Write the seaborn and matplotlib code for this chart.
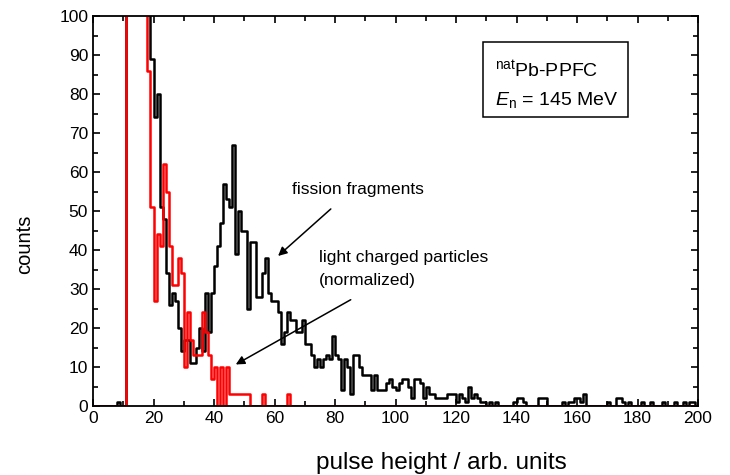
import numpy as np
import pandas as pd
import matplotlib
matplotlib.use("Agg")
import matplotlib.pyplot as plt
import seaborn as sns
from matplotlib.patches import Rectangle
from matplotlib.ticker import MultipleLocator

# ---------------- data (one value per channel, bin width 1) ----------------
bin_edges = list(range(0, 201))

fission_counts = (
    [0, 0, 0, 0, 0, 0, 0, 0, 1, 0, 0]                      # 0-10
    + [150, 150, 150, 150, 150, 150, 150, 150]              # 11-18
    + [89, 74, 80, 51, 48, 34, 26, 29, 27, 20, 14]          # 19-29
    + [17, 17, 11, 11, 15, 20, 14, 29, 19, 29]              # 30-39
    + [36, 41, 47, 57, 53, 51, 67, 39, 50, 45]              # 40-49
    + [45, 25, 42, 42, 28, 28, 34, 38, 29, 27]              # 50-59
    + [27, 24, 16, 19, 24, 22, 22, 19, 19, 22]              # 60-69
    + [16, 16, 13, 10, 12, 10, 12, 13, 12, 18]              # 70-79
    + [13, 12, 4, 12, 10, 3, 13, 13, 10, 8]                 # 80-89
    + [8, 8, 4, 8, 4, 4, 4, 6, 7, 5]                        # 90-99
    + [4, 6, 7, 7, 5, 2, 7, 7, 6, 2]                        # 100-109
    + [5, 3, 3, 2, 2, 2, 2, 3, 3, 3]                        # 110-119
    + [1, 3, 2, 1, 5, 2, 3, 2, 1, 1]                        # 120-129
    + [0, 1, 0, 1, 0, 0, 0, 0, 0, 1]                        # 130-139
    + [2, 2, 1, 0, 0, 0, 0, 2, 2, 2]                        # 140-149
    + [0, 0, 0, 0, 0, 1, 0, 1, 1, 2]                        # 150-159
    + [2, 1, 3, 0, 0, 0, 0, 0, 0, 0]                        # 160-169
    + [1, 0, 0, 2, 2, 1, 0, 1, 0, 0]                        # 170-179
    + [0, 1, 0, 0, 1, 0, 0, 0, 1, 0]                        # 180-189
    + [0, 0, 1, 0, 0, 1, 0, 1, 1, 0]                        # 190-199
)

lcp_counts = (
    [0] * 11                                                # 0-10
    + [150, 150, 150, 150, 150, 150, 150]                   # 11-17
    + [86, 51, 27, 44, 41, 62, 55, 41, 31, 31, 38, 34]      # 18-29
    + [10, 24, 17, 13, 13, 13, 24, 19, 13, 7]               # 30-39
    + [10, 0, 10, 0, 10, 3, 3, 3, 3, 3]                     # 40-49
    + [3, 3, 0, 0, 0, 0, 3, 0, 0, 0]                        # 50-59
    + [0, 0, 0, 0, 3, 0, 0, 0, 0, 0]                        # 60-69
    + [0] * 130                                             # 70-199
)

x_ticks = [0, 20, 40, 60, 80, 100, 120, 140, 160, 180, 200]
y_ticks = [0, 10, 20, 30, 40, 50, 60, 70, 80, 90, 100]

# ---------------- style ----------------
sns.set_style("ticks")
plt.rcParams['font.family'] = ['Liberation Sans', 'DejaVu Sans']
plt.rcParams['mathtext.fontset'] = 'custom'
plt.rcParams['mathtext.rm'] = 'Liberation Sans'
plt.rcParams['mathtext.it'] = 'Liberation Sans:italic'
plt.rcParams['text.color'] = 'black'
plt.rcParams['axes.labelcolor'] = 'black'
plt.rcParams['xtick.color'] = 'black'
plt.rcParams['ytick.color'] = 'black'

fig = plt.figure(figsize=(7.3, 4.75), dpi=100)
ax = fig.add_axes([93 / 730, 69 / 475, 605 / 730, 390 / 475])

centers = np.arange(len(fission_counts)) + 0.5
df = pd.DataFrame({"x": centers, "fission": fission_counts, "lcp": lcp_counts})

sns.histplot(data=df, x="x", weights="fission", bins=bin_edges, element="step",
             fill=False, color="black", lw=1.8, ax=ax)
sns.histplot(data=df, x="x", weights="lcp", bins=bin_edges, element="step",
             fill=False, color="#ff0000", lw=1.8, ax=ax)

ax.set_xlim(0, 200)
ax.set_ylim(0, 100)
ax.set_xticks(x_ticks)
ax.set_yticks(y_ticks)
ax.xaxis.set_minor_locator(MultipleLocator(10))
ax.yaxis.set_minor_locator(MultipleLocator(5))
ax.tick_params(which='both', direction='in', top=True, right=True,
               width=1.2, labelsize=12.5, colors='black')
ax.tick_params(which='major', length=5)
ax.tick_params(which='minor', length=3.5)
for sp in ax.spines.values():
    sp.set_visible(True)
    sp.set_linewidth(1.3)
    sp.set_color('black')

ax.set_xlabel("pulse height / arb. units", fontsize=17.5)
ax.set_ylabel("counts", fontsize=14.5)
ax.xaxis.set_label_coords((441 - 93) / 605, (406 - 463) / 390)
ax.yaxis.set_label_coords((25 - 93) / 605, (406 - 244) / 390)
ax.xaxis.label.set_va('center')
ax.yaxis.label.set_va('center')

# annotations
ax.annotate("", xy=(60.5, 38), xytext=(79.3, 51),
            arrowprops=dict(arrowstyle='-|>', color='black', lw=1.1,
                            mutation_scale=13))
ax.text(65.8, 55.4, "fission fragments", fontsize=12.5, va='center', ha='left')
ax.annotate("", xy=(46.4, 10.3), xytext=(86, 27.6),
            arrowprops=dict(arrowstyle='-|>', color='black', lw=1.1,
                            mutation_scale=13))
ax.text(74.7, 38.0, "light charged particles", fontsize=12.5, va='center', ha='left')
ax.text(74.7, 32.3, "(normalized)", fontsize=12.5, va='center', ha='left')

# info box
ax.add_patch(Rectangle((0.645, 0.741), 0.885 - 0.645, 0.933 - 0.741,
                       transform=ax.transAxes, fill=False, lw=1.1,
                       edgecolor='black', zorder=5))
ax.text(0.664, 0.862, r"$^{\mathrm{nat}}$Pb-PPFC", transform=ax.transAxes,
        fontsize=14, va='center', ha='left')
ax.text(0.664, 0.785, r"$E_{\mathrm{n}}$ = 145 MeV", transform=ax.transAxes,
        fontsize=14, va='center', ha='left')

fig.savefig("out.png", dpi=100)
